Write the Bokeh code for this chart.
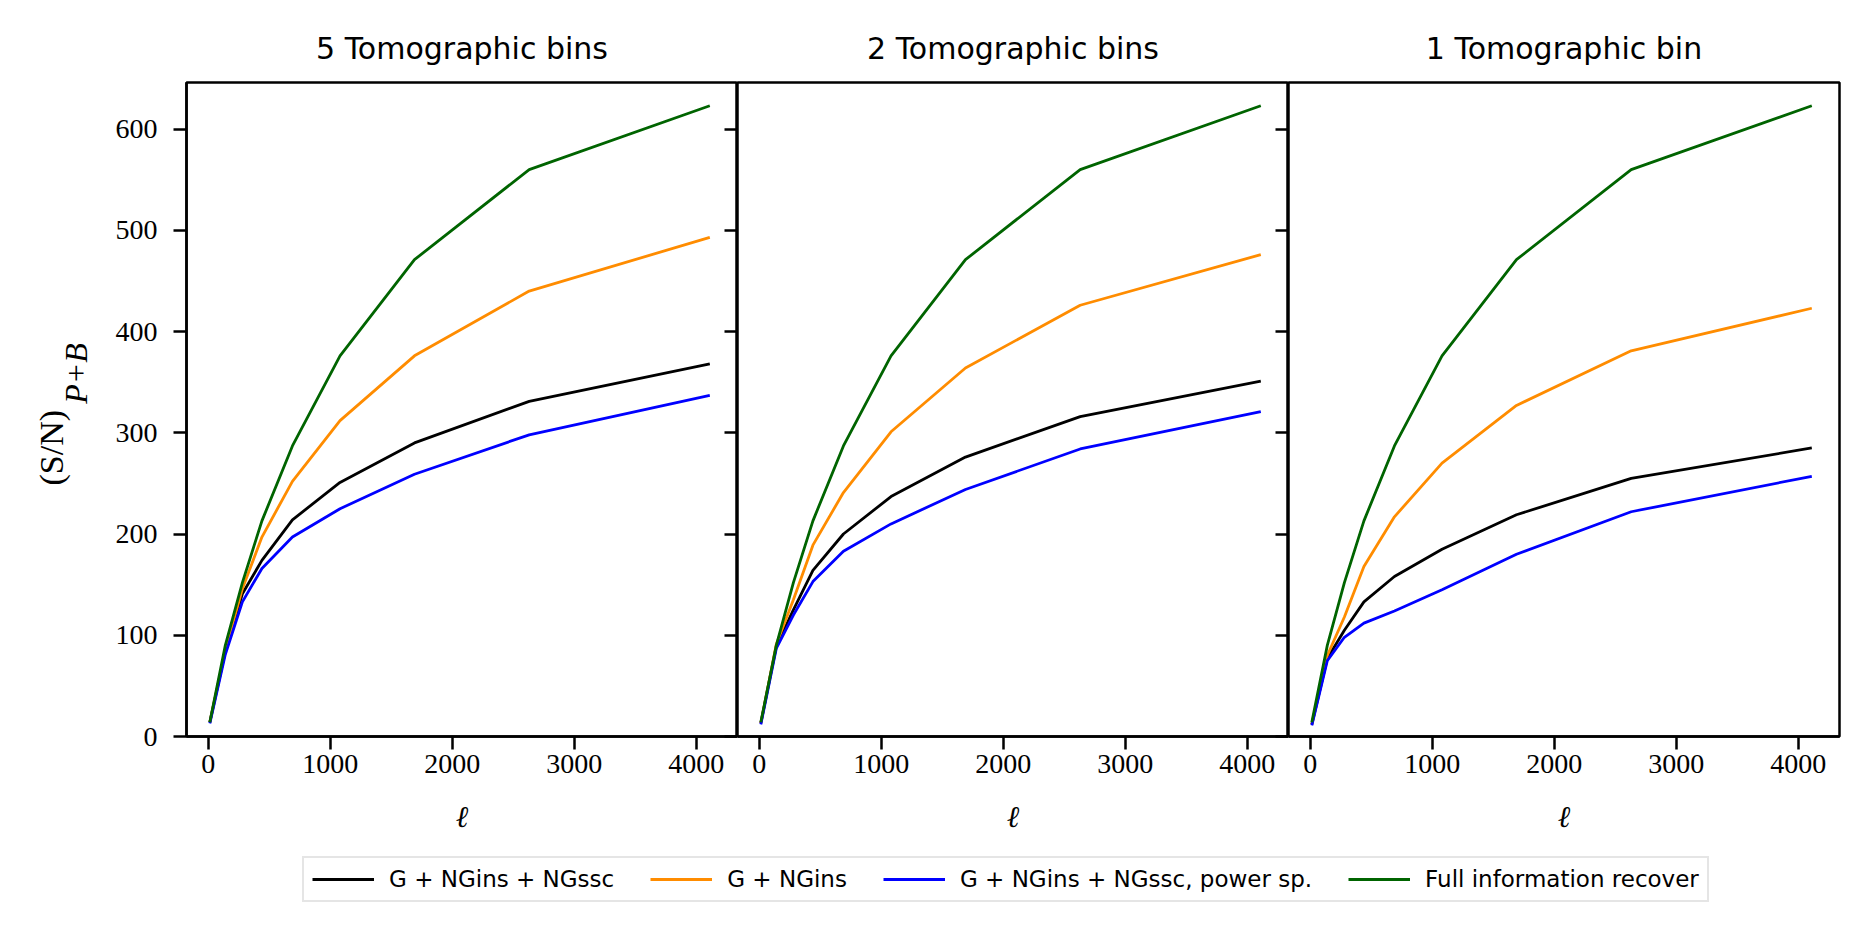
import numpy as np
from bokeh.plotting import figure
from bokeh.models import (Range1d, LinearAxis, FixedTicker, Legend, LegendItem,
                          CustomJSTickFormatter)
from bokeh.layouts import row, column
from bokeh.embed import file_html
from bokeh.resources import INLINE

# ---------------- data ----------------
ell = [13, 140, 280, 440, 690, 1080, 1690, 2630, 4110]

titles = ["5 Tomographic bins", "2 Tomographic bins", "1 Tomographic bin"]
series_labels = ["G + NGins + NGssc", "G + NGins",
                 "G + NGins + NGssc, power sp.", "Full information recover"]
series_colors = ["#000000", "#ff8c00", "#0000ff", "#006400"]

full_info = [14, 90, 152, 213, 287, 376, 471, 560, 623]

bins5_all = [14, 84, 141, 174, 214, 251, 290, 331, 368]
bins5_gauss = [14, 85, 146, 197, 252, 312, 376, 440, 493]
bins5_power = [13, 81, 133, 166, 197, 225, 259, 298, 337]

bins2_all = [13, 89, 125, 164, 200, 237, 276, 316, 351]
bins2_gauss = [13, 91, 135, 189, 241, 301, 364, 426, 476]
bins2_power = [12, 87, 120, 153, 183, 210, 244, 284, 321]

bins1_all = [12, 77, 105, 133, 158, 185, 219, 255, 285]
bins1_gauss = [12, 80, 118, 168, 217, 270, 327, 381, 423]
bins1_power = [11, 75, 98, 112, 124, 145, 180, 222, 257]

x_ticks = [0, 1000, 2000, 3000, 4000]
y_ticks = [0, 100, 200, 300, 400, 500, 600]
y_label_main = "(S/N)"
y_label_sub = "P+B"
x_label = "ℓ"

panels = [
    [bins5_all, bins5_gauss, bins5_power, full_info],
    [bins2_all, bins2_gauss, bins2_power, full_info],
    [bins1_all, bins1_gauss, bins1_power, full_info],
]

# ---------------- style ----------------
SERIF = "Liberation Serif"
SANS = "DejaVu Sans"
LW = 2.8
AX_LW = 2.5
FW, FH = 551, 654
XR = (-178, 4337)
YR = (0, 646)
NBSP = "\u00a0"


def label_axis(text, standoff, size, style):
    return LinearAxis(ticker=FixedTicker(ticks=[]),
                      axis_line_color=None, major_tick_line_color=None,
                      minor_tick_line_color=None,
                      axis_label=text, axis_label_standoff=standoff,
                      axis_label_text_font=SERIF, axis_label_text_font_size=size,
                      axis_label_text_font_style=style,
                      axis_label_text_color="black")


def make_panel(i):
    p = figure(
        frame_width=FW, frame_height=FH,
        x_range=Range1d(*XR), y_range=Range1d(*YR),
        output_backend="svg", toolbar_location=None,
        y_axis_location="left" if i == 0 else None,
        min_border_left=186 if i == 0 else 0,
        min_border_right=0 if i < 2 else 20,
        min_border_top=82, min_border_bottom=104,
        background_fill_color="white", border_fill_color="white",
    )
    p.title.text = titles[i]
    p.title.align = "center"
    p.title.text_font = SANS
    p.title.text_font_size = "30px"
    p.title.text_font_style = "normal"
    p.title.text_color = "black"
    p.title.standoff = 33

    p.grid.visible = False
    p.outline_line_color = "black"
    p.outline_line_width = AX_LW

    xa = p.xaxis[0]
    xa.ticker = FixedTicker(ticks=x_ticks)
    xa.axis_label = x_label
    xa.axis_label_text_font = "DejaVu Serif"
    xa.axis_label_text_font_style = "italic"
    xa.axis_label_text_font_size = "30px"
    xa.axis_label_text_color = "black"
    xa.axis_label_standoff = 23
    xa.major_label_text_font = SERIF
    xa.major_label_text_font_size = "28px"
    xa.major_label_text_color = "black"
    xa.major_label_standoff = 5
    xa.major_tick_out = 13
    xa.major_tick_in = 0
    xa.minor_tick_line_color = None
    xa.axis_line_width = AX_LW
    xa.major_tick_line_width = AX_LW

    if i == 0:
        ya = p.yaxis[0]
        ya.ticker = FixedTicker(ticks=y_ticks)
        ya.major_label_text_font = SERIF
        ya.major_label_text_font_size = "28px"
        ya.major_label_text_color = "black"
        ya.major_label_standoff = 16
        ya.major_tick_out = 13
        ya.major_tick_in = 0
        ya.minor_tick_line_color = None
        ya.axis_line_width = AX_LW
        ya.major_tick_line_width = AX_LW
        # y label (S/N)_{P+B}: subscript nearer the frame and higher up
        p.add_layout(label_axis(NBSP * 9 + y_label_sub, 19, "32px", "italic"), "left")
        p.add_layout(label_axis(y_label_main + NBSP * 9, -15, "34px", "normal"), "left")

    if i < 2:
        ra = LinearAxis(ticker=FixedTicker(ticks=y_ticks),
                        formatter=CustomJSTickFormatter(code="return ''"),
                        major_tick_in=13, major_tick_out=0,
                        major_label_standoff=0,
                        axis_line_color=None,
                        minor_tick_line_color=None,
                        major_tick_line_width=AX_LW)
        p.add_layout(ra, "right")

    for vals, c in zip(panels[i], series_colors):
        p.line(ell, vals, line_color=c, line_width=LW)
    return p


figs = [make_panel(i) for i in range(3)]

# legend in its own strip below the panels (its lines lie outside the strip's view)
lf = figure(frame_width=1840, frame_height=76, x_range=Range1d(0, 1), y_range=Range1d(-2, -1),
            output_backend="svg", toolbar_location=None,
            x_axis_location=None, y_axis_location=None,
            min_border_left=0, min_border_right=0, min_border_top=0, min_border_bottom=0,
            background_fill_color="white", border_fill_color="white")
lf.grid.visible = False
lf.outline_line_color = None
items = []
for lab, c, vals in zip(series_labels, series_colors, panels[0]):
    r = lf.line(ell, vals, line_color=c, line_width=LW)
    items.append(LegendItem(label=lab, renderers=[r]))
leg = Legend(items=items, orientation="horizontal", location=(302, 14),
             label_text_font=SANS, label_text_font_size="23px", label_text_color="black",
             glyph_width=62, glyph_height=22, label_standoff=15, spacing=36,
             padding=8, margin=0,
             border_line_color="#cccccc", border_line_width=2,
             background_fill_color="white", background_fill_alpha=1.0)
lf.add_layout(leg, "center")

layout = column(row(*figs, spacing=0), lf, spacing=0)

open("out.html", "w").write(file_html(layout, INLINE))
